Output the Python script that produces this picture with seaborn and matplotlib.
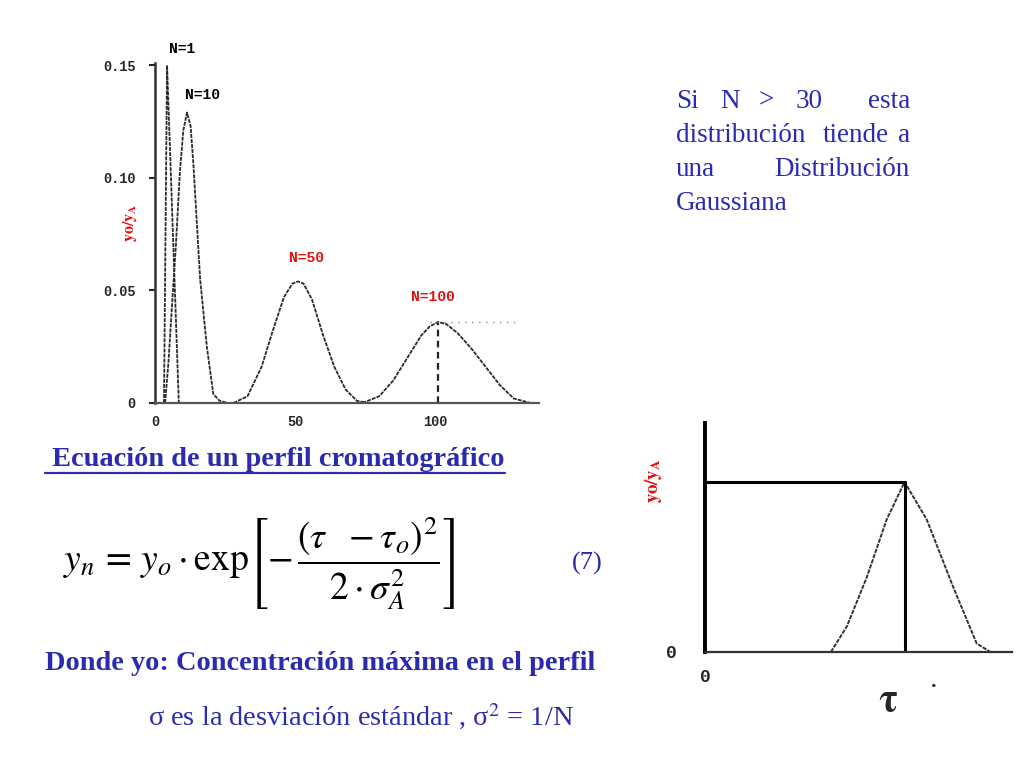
"""Slide: Poisson-like chromatographic profiles for several N, plus the Gaussian peak equation."""

import numpy as np
import pandas as pd
import matplotlib
import matplotlib.pyplot as plt
import seaborn as sns

matplotlib.use("Agg")

# ── data ──────────────────────────────────────────────────────────────────
n1_x = [3.2, 4.3, 8.5]
n1_y = [0.0, 0.150, 0.0]

n10_x = [3.6, 4.8, 5.9, 7.5, 8.9, 10.1, 11.4, 12.7, 13.7, 16.1, 18.5, 20.8, 23.0, 26.0]
n10_y = [0.0, 0.018, 0.040, 0.071, 0.103, 0.121, 0.129, 0.123, 0.106, 0.055, 0.025, 0.004, 0.001, 0.0]

n50_x = [28, 33, 38, 42, 46, 49, 51, 53, 56, 60, 64, 68, 72, 76]
n50_y = [0.0, 0.003, 0.016, 0.032, 0.047, 0.053, 0.054, 0.053, 0.046, 0.030, 0.016, 0.006, 0.001, 0.0]

n100_x = [74, 80, 85, 90, 95, 98, 101, 104, 108, 113, 118, 123, 128, 134]
n100_y = [0.0, 0.003, 0.010, 0.020, 0.030, 0.034, 0.036, 0.035, 0.031, 0.024, 0.016, 0.008, 0.002, 0.0]

curve_labels = ["N=1", "N=10", "N=50", "N=100"]
y_ticks = [0, 0.05, 0.10, 0.15]
y_ticklabels = ["0", "0.05", "0.10", "0.15"]
x_ticks = [0, 50, 100]

# single Gaussian peak (right-hand sketch)
peak_x = [4.1, 4.62, 5.27, 5.92, 6.5, 7.22, 8.09, 8.85, 9.3, 9.9]
peak_y = [0.0, 0.15, 0.44, 0.78, 1.0, 0.78, 0.38, 0.05, 0.0, 0.0]
tau_o = 6.5
y_max = 1.0

BLUE = "#2B2BB0"
RED = "#E01010"

sns.set_theme(style="white")
plt.rcParams["font.family"] = ["Liberation Serif", "DejaVu Serif"]
plt.rcParams["mathtext.fontset"] = "stix"

W, H = 1024, 768
fig = plt.figure(figsize=(W / 100, H / 100), dpi=100)


def fpos(px, py):
    return px / W, 1 - py / H


def add_axes_px(left, top, right, bottom):
    return fig.add_axes([left / W, 1 - bottom / H, (right - left) / W, (bottom - top) / H])


# ── main plot ─────────────────────────────────────────────────────────────
ax = add_axes_px(155, 63, 539, 403)
curves = pd.DataFrame({
    "x": n1_x + n10_x + n50_x + n100_x,
    "y": n1_y + n10_y + n50_y + n100_y,
    "N": ([curve_labels[0]] * len(n1_x) + [curve_labels[1]] * len(n10_x)
          + [curve_labels[2]] * len(n50_x) + [curve_labels[3]] * len(n100_x)),
})
for name, grp in curves.groupby("N", sort=False):
    sns.lineplot(data=grp, x="x", y="y", ax=ax, color="#2a2a2a", lw=1.3,
                 linestyle=(0, (2.2, 0.6)), legend=False)

# dashed drop line + dotted level line at the N=100 maximum
i_pk = int(np.argmax(n100_y))
ax.plot([n100_x[i_pk], n100_x[i_pk]], [0, n100_y[i_pk]], color="#222", lw=1.6, ls=(0, (3, 2)))
ax.plot([n100_x[i_pk] - 3, n100_x[i_pk] + 28], [n100_y[i_pk]] * 2, color="#888", lw=1.0, ls=(0, (1, 4)))

ax.set_xlim(0, 137)
ax.set_ylim(0, 0.151)
ax.set_yticks(y_ticks)
ax.set_yticklabels(y_ticklabels)
ax.set_xticks(x_ticks)
for s in ["top", "right"]:
    ax.spines[s].set_visible(False)
ax.spines["left"].set_linewidth(1.8)
ax.spines["left"].set_color("#333")
ax.spines["bottom"].set_linewidth(1.6)
ax.spines["bottom"].set_color("#555")
ax.tick_params(axis="y", length=4, width=1.5, pad=10, left=True)
ax.tick_params(axis="x", length=0, pad=9)
for lab in ax.get_yticklabels() + ax.get_xticklabels():
    lab.set_fontfamily("Liberation Mono")
    lab.set_fontweight("bold")
    lab.set_fontsize(9.8)
ax.set_xlabel("")
ax.set_ylabel(r"$\mathbf{yo/y_A}$", color=RED, fontsize=11.5)
ax.yaxis.set_label_coords(-0.042, 0.53)

label_pos = [(9.6, 0.157, "black"), (17.1, 0.137, "black"),
             (53.9, 0.0644, RED), (99.3, 0.0472, RED)]
for lbl, (lx, ly, c) in zip(curve_labels, label_pos):
    ax.text(lx, ly, lbl, color=c, fontsize=10.5, fontweight="bold", family="Liberation Mono",
            ha="center", va="center", clip_on=False)

# ── right-hand Gaussian sketch ────────────────────────────────────────────
ax2 = add_axes_px(705, 423, 1012, 652)
sns.lineplot(x=peak_x, y=peak_y, ax=ax2, color="#333", lw=1.4, linestyle=(0, (2.2, 0.6)))
ax2.plot([0, tau_o], [y_max, y_max], color="black", lw=2.2)
ax2.plot([tau_o, tau_o], [0, y_max], color="black", lw=2.2)
ax2.set_xlim(0, 10)
ax2.set_ylim(0, 1.347)
ax2.set_xticks([0])
ax2.set_yticks([0])
ax2.set_xticklabels(["0"])
ax2.set_yticklabels(["0"])
for s in ["top", "right"]:
    ax2.spines[s].set_visible(False)
ax2.spines["left"].set_linewidth(2.8)
ax2.spines["left"].set_color("black")
ax2.spines["bottom"].set_linewidth(1.6)
ax2.spines["bottom"].set_color("#333")
ax2.tick_params(axis="y", length=0, pad=20)
ax2.tick_params(axis="x", length=0, pad=12)
for lab in ax2.get_yticklabels() + ax2.get_xticklabels():
    lab.set_fontfamily("Liberation Mono")
    lab.set_fontweight("bold")
    lab.set_fontsize(13)
ax2.set_xlabel("")
ax2.set_ylabel(r"$\mathbf{yo/y_A}$", color=RED, fontsize=13.5)
ax2.yaxis.set_label_coords(-0.135, 0.75)
fig.text(*fpos(888, 702), r"$\mathbf{\tau}$", fontsize=28, ha="center", va="center")
fig.text(*fpos(934, 682), ".", fontsize=16, fontweight="bold", ha="center", va="center")

# ── right-top justified note ──────────────────────────────────────────────
tkw = dict(color=BLUE, fontsize=19.5, va="center")
fig.text(*fpos(676, 101), "Si", ha="left", **tkw)
fig.text(*fpos(730, 101), "N", ha="center", **tkw)
fig.text(*fpos(766, 101), ">", ha="center", **tkw)
fig.text(*fpos(809, 101), "30", ha="center", **tkw)
fig.text(*fpos(910, 101), "esta", ha="right", **tkw)
fig.text(*fpos(676, 135), "distribución", ha="left", **tkw)
fig.text(*fpos(856, 135), "tiende", ha="center", **tkw)
fig.text(*fpos(910, 135), "a", ha="right", **tkw)
fig.text(*fpos(676, 169), "una", ha="left", **tkw)
fig.text(*fpos(910, 169), "Distribución", ha="right", **tkw)
fig.text(*fpos(676, 203), "Gaussiana", ha="left", **tkw)

# ── equation block ────────────────────────────────────────────────────────
title = fig.text(*fpos(45, 460), " Ecuación de un perfil cromatográfico", color=BLUE,
                 fontsize=20.4, fontweight="bold", ha="left", va="center")
fig.text(*fpos(63, 563),
         r"$y_n\,=\,y_o\cdot\mathrm{exp}\left[-\,\dfrac{(\tau\ \ -\tau_o)^2}{2\cdot\sigma_A^2}\right]$",
         color="black", fontsize=27, ha="left", va="center")
fig.text(*fpos(572, 563), "(7)", color=BLUE, fontsize=19, ha="left", va="center")
fig.text(*fpos(45, 664), "Donde yo: Concentración máxima en el perfil", color=BLUE,
         fontsize=20.4, fontweight="bold", ha="left", va="center")
fig.text(*fpos(148, 717), "σ es la desviación estándar , σ$^{2}$ = 1/N", color=BLUE,
         fontsize=20.4, ha="left", va="center")

# underline the title
fig.canvas.draw()
bb = title.get_window_extent(fig.canvas.get_renderer())
x0 = 45 / W
x1 = bb.x1 / W
y_ul = 1 - 473 / H
fig.add_artist(matplotlib.lines.Line2D([x0, x1], [y_ul, y_ul], color=BLUE, lw=1.6))

fig.savefig("out.png", dpi=100)
